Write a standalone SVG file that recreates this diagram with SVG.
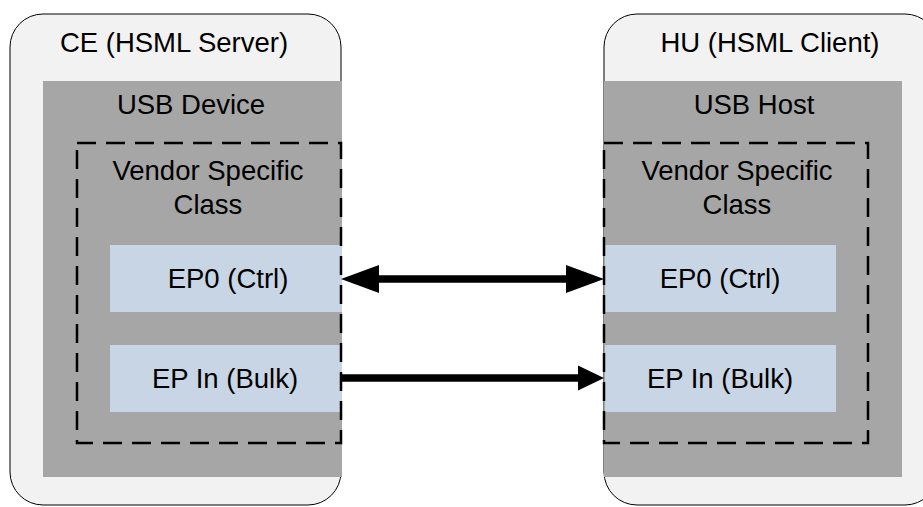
<svg xmlns="http://www.w3.org/2000/svg" width="923" height="507" viewBox="0 0 923 507">
<style>
.outer{fill:#f2f2f2;stroke:#000;stroke-width:1}
.usb{fill:#a6a6a6}
.ep{fill:#c8d5e4}
.cls{fill:none;stroke:#000;stroke-width:2.5;stroke-dasharray:19 10}
.t{font-family:"Liberation Sans",Arial,sans-serif;font-size:27.5px;fill:#000;text-anchor:middle}
.conn{stroke:#000;fill:none}
</style>
<defs>
<marker id="headBig" markerUnits="userSpaceOnUse" markerWidth="40" markerHeight="30" viewBox="0 -15 40 30" refX="2" refY="0" orient="auto-start-reverse" overflow="visible">
<path d="M0,-14 L38,0 L0,14 Z" fill="#000"/>
</marker>
<marker id="headSmall" markerUnits="userSpaceOnUse" markerWidth="28" markerHeight="26" viewBox="0 -13 28 26" refX="1" refY="0" orient="auto" overflow="visible">
<path d="M0,-12.5 L26,0 L0,12.5 Z" fill="#000"/>
</marker>
</defs>

<g id="ce">
<rect class="outer" x="10" y="14" width="331" height="491" rx="33" ry="33"/>
<text class="t" x="174" y="52">CE (HSML Server)</text>
</g>
<g id="usb-device">
<rect class="usb" x="43" y="81" width="299" height="396"/>
<text class="t" x="191" y="114">USB Device</text>
</g>
<g id="ep0-device">
<rect class="ep" x="110" y="245" width="232" height="67"/>
<text class="t" x="228" y="288">EP0 (Ctrl)</text>
</g>
<g id="epin-device">
<rect class="ep" x="110" y="345" width="232" height="67"/>
<text class="t" x="225" y="388">EP In (Bulk)</text>
</g>
<g id="vendor-class-device">
<rect class="cls" x="77" y="143" width="264" height="300"/>
<text class="t" x="208" y="180">Vendor Specific</text>
<text class="t" x="208" y="214">Class</text>
</g>

<g id="hu">
<rect class="outer" x="604" y="14" width="334" height="491" rx="33" ry="33"/>
<text class="t" x="770" y="52">HU (HSML Client)</text>
</g>
<g id="usb-host">
<rect class="usb" x="604" y="81" width="298" height="396"/>
<text class="t" x="754" y="114">USB Host</text>
</g>
<g id="ep0-host">
<rect class="ep" x="605" y="245" width="231" height="67"/>
<text class="t" x="720" y="288">EP0 (Ctrl)</text>
</g>
<g id="epin-host">
<rect class="ep" x="605" y="345" width="231" height="67"/>
<text class="t" x="720" y="388">EP In (Bulk)</text>
</g>
<g id="vendor-class-host">
<rect class="cls" x="604" y="143" width="264" height="300"/>
<text class="t" x="737" y="180">Vendor Specific</text>
<text class="t" x="737" y="214">Class</text>
</g>

<g id="connectors">
<line class="conn" x1="377" y1="279" x2="568" y2="279" stroke-width="7.5" marker-start="url(#headBig)" marker-end="url(#headBig)"/>
<line class="conn" x1="342" y1="378" x2="579" y2="378" stroke-width="7.5" marker-end="url(#headSmall)"/>
</g>
</svg>
